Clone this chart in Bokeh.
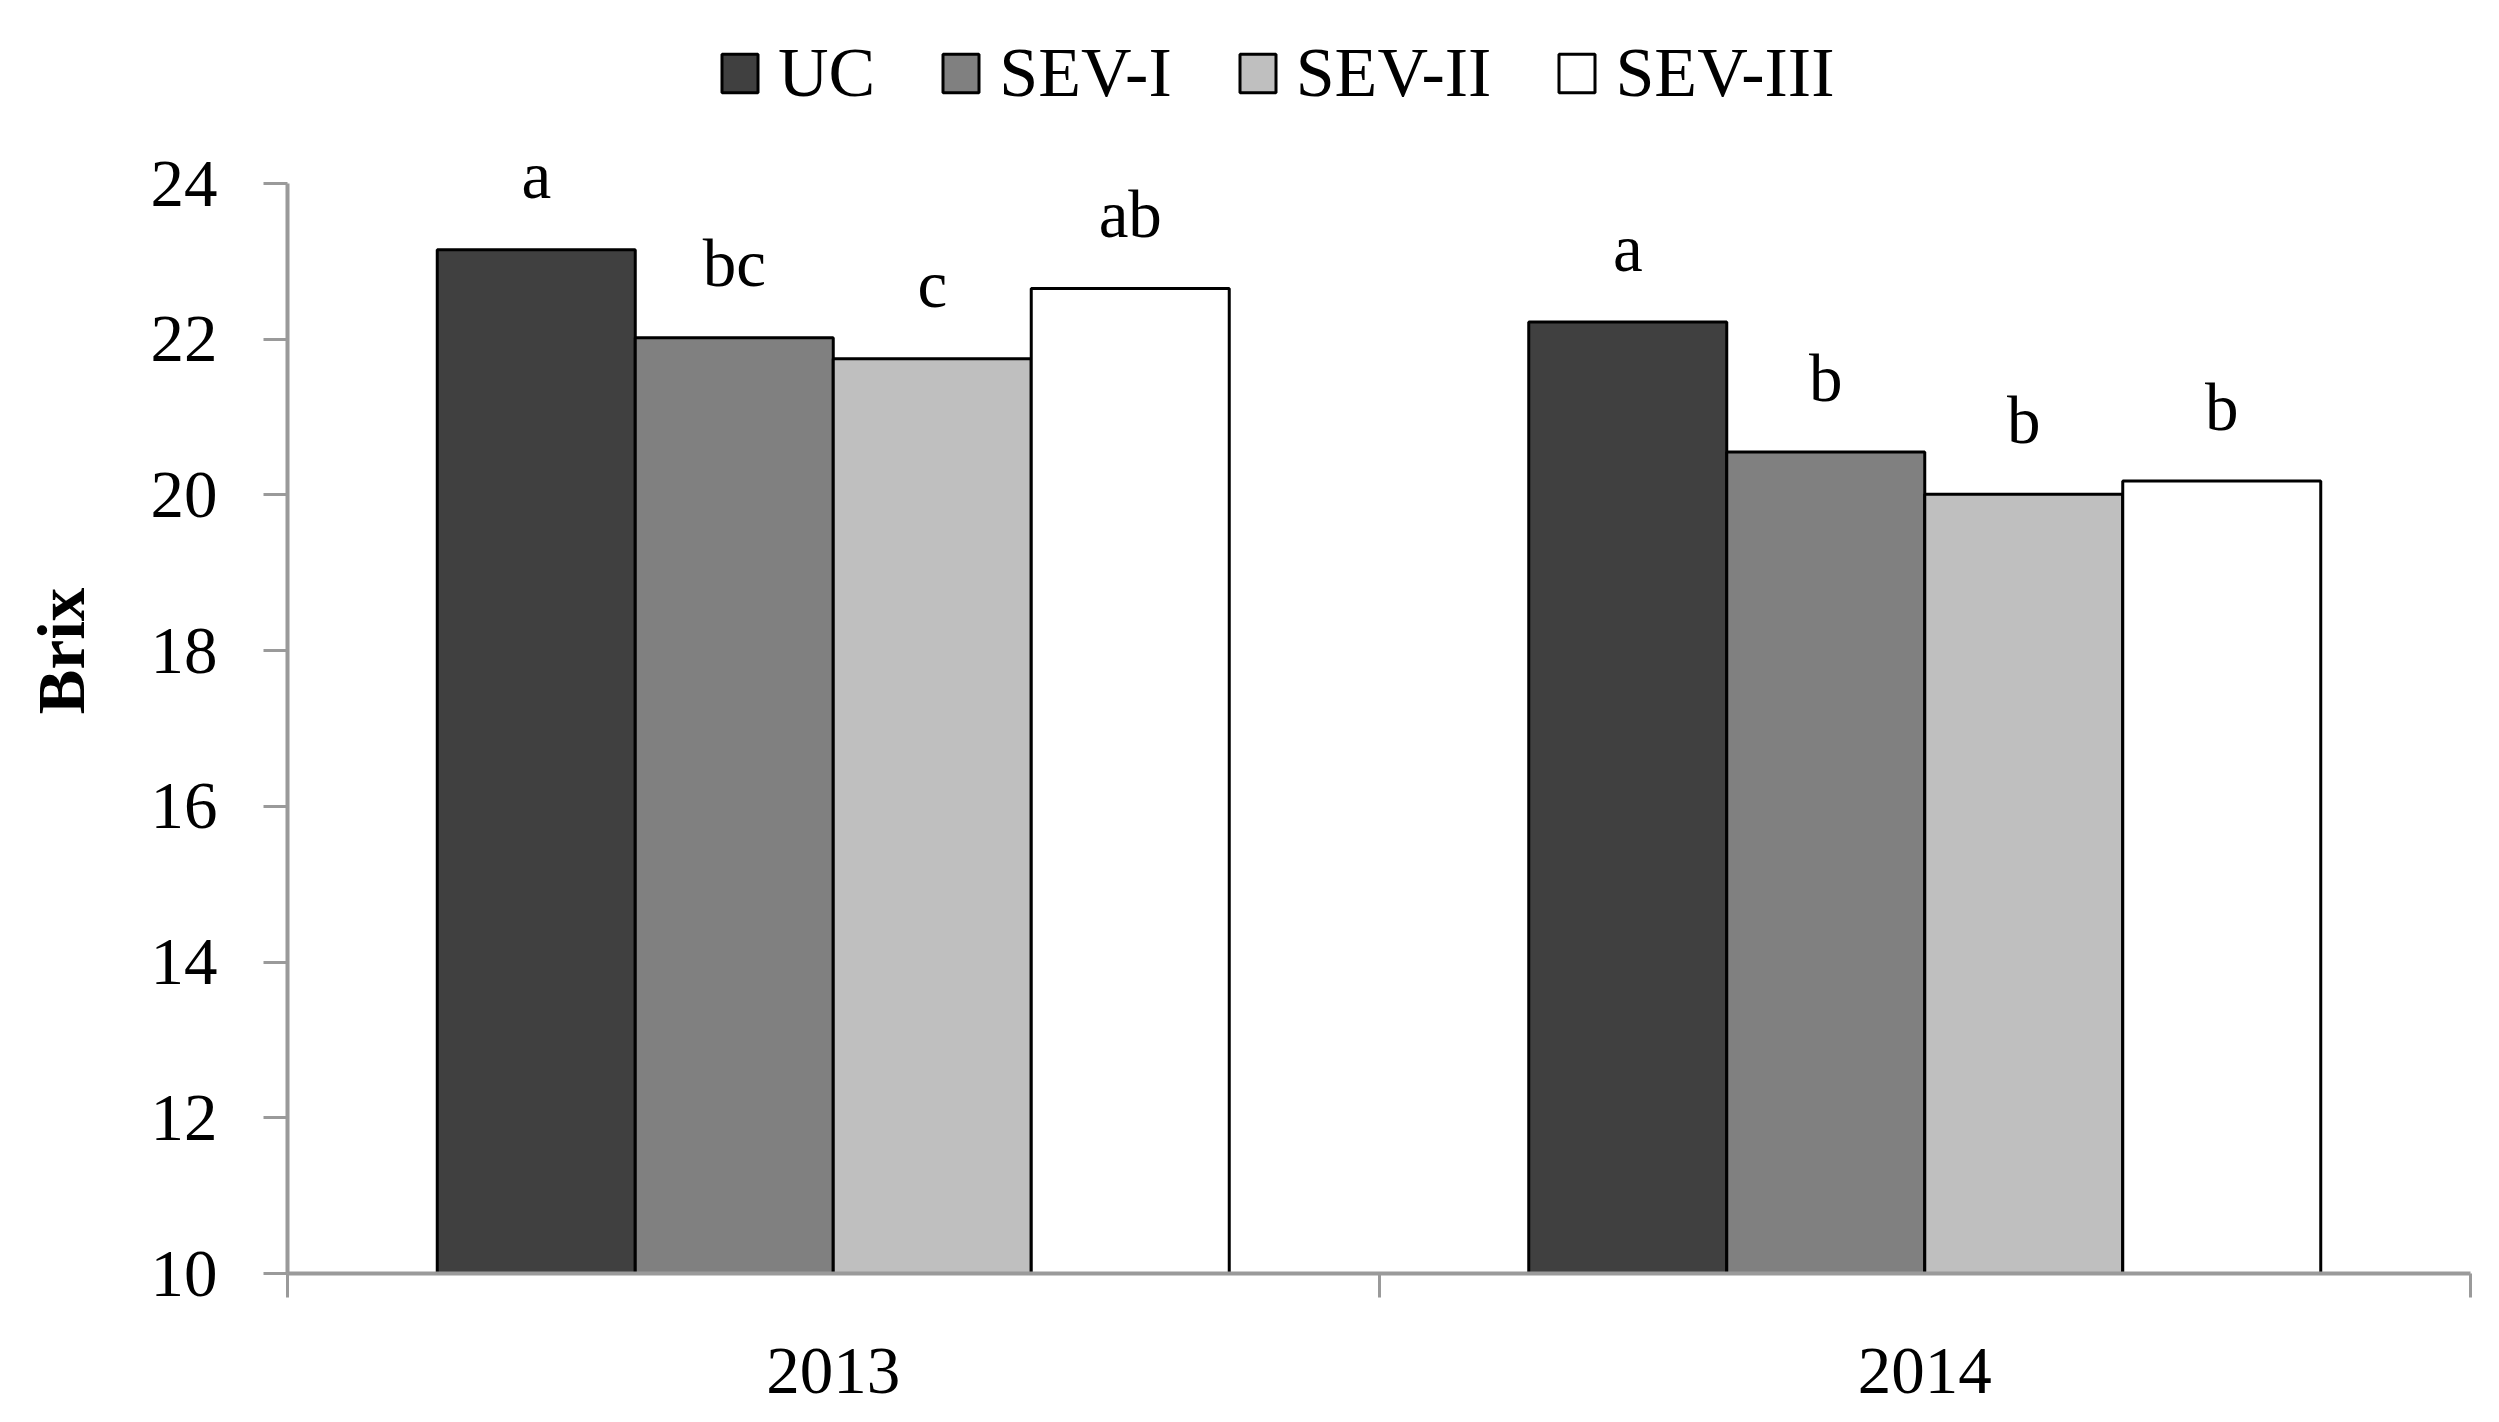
from bokeh.plotting import figure
from bokeh.models import (Range1d, FixedTicker, Legend, LegendItem,
                          LabelSet, ColumnDataSource)
from bokeh.embed import file_html
from bokeh.resources import INLINE

# ---- data ----
years = ["2013", "2014"]
treatments = ["UC", "SEV-I", "SEV-II", "SEV-III"]
uc = [23.15, 22.22]
sev1 = [22.02, 20.55]
sev2 = [21.75, 20.01]
sev3 = [22.65, 20.18]
letters_uc = ["a", "a"]
letters_sev1 = ["bc", "b"]
letters_sev2 = ["c", "b"]
letters_sev3 = ["ab", "b"]
y_ticks = [10, 12, 14, 16, 18, 20, 22, 24]

series = [uc, sev1, sev2, sev3]
letters = [letters_uc, letters_sev1, letters_sev2, letters_sev3]
colors = ["#404040", "#808080", "#bfbfbf", "#ffffff"]

FONT = "Liberation Serif"
FS = "67px"
AXIS_COLOR = "#9a9a9a"

W, H = 2490, 1415
FRAME_L, FRAME_R, FRAME_T, FRAME_B = 287, 2470, 28, 1273
Y0, Y1 = 10, 24
px_per_unit = (FRAME_B - 183) / (Y1 - Y0)
y_top = Y1 + (183 - FRAME_T) / px_per_unit

p = figure(width=W, height=H, output_backend="svg", toolbar_location=None,
           x_range=Range1d(0, 2), y_range=Range1d(Y0, y_top),
           min_border_left=FRAME_L, min_border_right=W - FRAME_R,
           min_border_top=FRAME_T, min_border_bottom=H - FRAME_B)
p.outline_line_color = None
p.grid.visible = False
p.background_fill_color = "white"
p.border_fill_color = "white"

bar_w = 0.1814
offsets = [-1.5, -0.5, 0.5, 1.5]
items = []
for k, (name, vals, labs, col) in enumerate(zip(treatments, series, letters, colors)):
    xs = [i + 0.5 + offsets[k] * bar_w for i in range(len(years))]
    src = ColumnDataSource(dict(x=xs, top=vals, bottom=[Y0] * len(vals),
                                ly=[v + 0.66 for v in vals], lab=labs))
    r = p.vbar(x="x", top="top", bottom="bottom", width=bar_w, source=src,
               fill_color=col, line_color="black", line_width=3)
    items.append(LegendItem(label=name, renderers=[r]))
    ls = LabelSet(x="x", y="ly", text="lab", source=src, text_align="center",
                  text_baseline="alphabetic", text_font=FONT, text_font_size=FS,
                  text_color="black")
    p.add_layout(ls)

# x axis
xa = p.xaxis[0]
xa.ticker = FixedTicker(ticks=[0.5, 1.5], minor_ticks=[0, 1, 2])
xa.major_label_overrides = {0.5: years[0], 1.5: years[1]}
xa.major_tick_line_color = None
xa.major_tick_out = 0
xa.major_tick_in = 0
xa.minor_tick_out = 24
xa.minor_tick_in = 0
xa.minor_tick_line_color = AXIS_COLOR
xa.minor_tick_line_width = 3
xa.axis_line_color = AXIS_COLOR
xa.axis_line_width = 4
xa.major_label_text_font = FONT
xa.major_label_text_font_size = FS
xa.major_label_text_color = "black"
xa.major_label_standoff = 51

# y axis
ya = p.yaxis[0]
ya.bounds = (Y0, Y1)
ya.ticker = FixedTicker(ticks=y_ticks, minor_ticks=[])
ya.major_tick_out = 24
ya.major_tick_in = 0
ya.major_tick_line_color = AXIS_COLOR
ya.major_tick_line_width = 3
ya.axis_line_color = AXIS_COLOR
ya.axis_line_width = 4
ya.major_label_text_font = FONT
ya.major_label_text_font_size = FS
ya.major_label_text_color = "black"
ya.major_label_standoff = 46
ya.axis_label = "Brix"
ya.axis_label_text_font = FONT
ya.axis_label_text_font_style = "bold"
ya.axis_label_text_font_size = FS
ya.axis_label_text_color = "black"
ya.axis_label_standoff = 50

legend = Legend(items=items, orientation="horizontal", location=(717 - FRAME_L, FRAME_B - 113),
                glyph_width=45, glyph_height=48, label_height=48, label_standoff=16,
                spacing=63, padding=0, margin=0, border_line_color=None,
                background_fill_alpha=0, label_text_font=FONT,
                label_text_font_size="70px", label_text_color="black")
p.add_layout(legend)

open("out.html", "w").write(file_html(p, INLINE))
